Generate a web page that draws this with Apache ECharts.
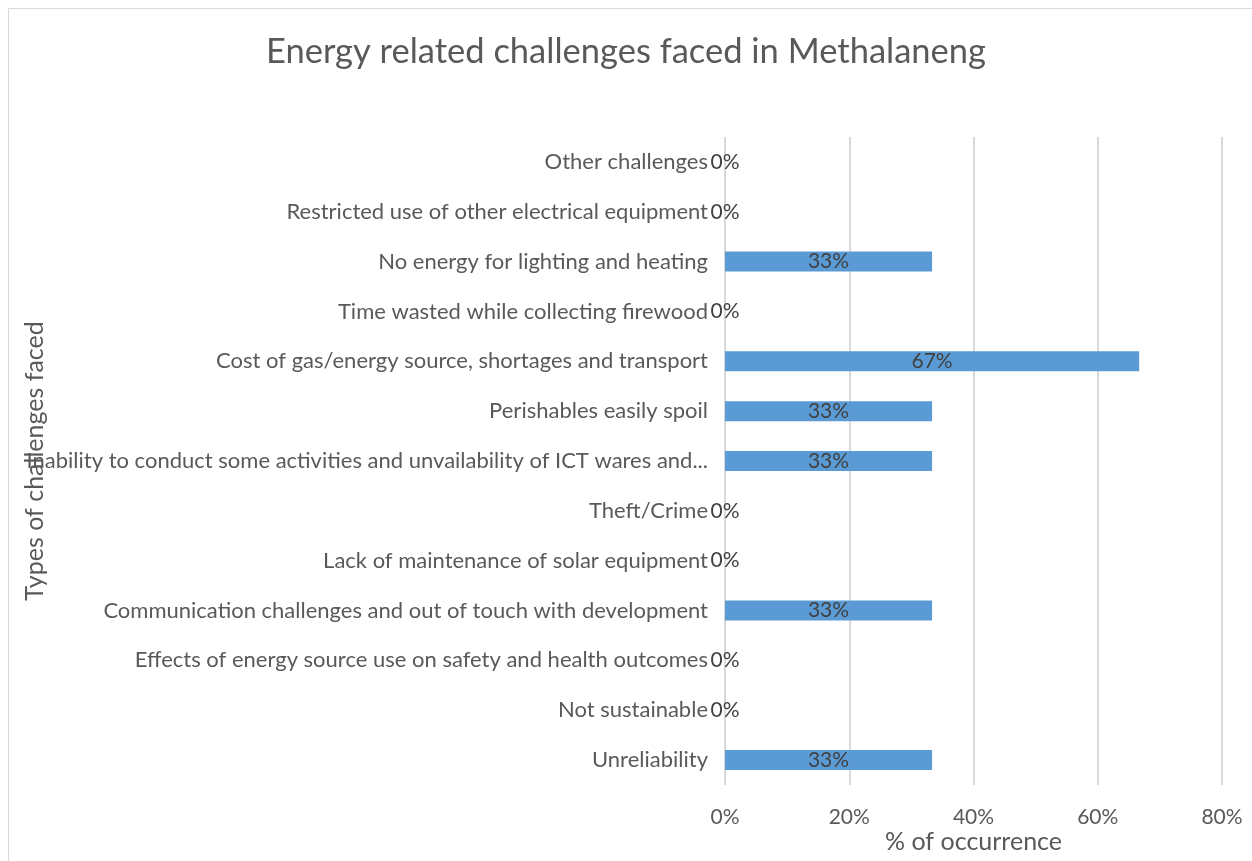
<!DOCTYPE html>
<html>
<head>
<meta charset="utf-8">
<script src="https://cdn.jsdelivr.net/npm/echarts@6/dist/echarts.min.js"></script>
<style>
  html, body { margin: 0; padding: 0; background: #fff; }
  #chart { width: 1252px; height: 861px; }
</style>
</head>
<body>
<div id="chart"></div>
<script>
  // categories listed bottom to top (category axis draws first item at the bottom)
  var challenges = [
    'Unreliability',
    'Not sustainable',
    'Effects of energy source use on safety and health outcomes',
    'Communication challenges and out of touch with development',
    'Lack of maintenance of solar equipment',
    'Theft/Crime',
    'Inability to conduct some activities and unvailability of ICT wares and...',
    'Perishables easily spoil',
    'Cost of gas/energy source, shortages and transport',
    'Time wasted while collecting firewood',
    'No energy for lighting and heating',
    'Restricted use of other electrical equipment',
    'Other challenges'
  ];
  var occurrence = [33.33, 0, 0, 33.33, 0, 0, 33.33, 33.33, 66.67, 0, 33.33, 0, 0];
  var xTicks = [0, 20, 40, 60, 80];

  var textColor = '#595959';
  var fontFam = 'Lato, "Open Sans", sans-serif';

  var chart = echarts.init(document.getElementById('chart'));
  var option = {
    animation: false,
    textStyle: { fontFamily: fontFam },
    title: {
      text: 'Energy related challenges faced in Methalaneng',
      left: 'center',
      top: 29,
      textStyle: { fontFamily: fontFam, fontSize: 34.5, fontWeight: 'normal', color: textColor }
    },
    graphic: [{
      type: 'rect',
      shape: { x: 8.5, y: 8.5, width: 1300, height: 900 },
      style: { fill: 'none', stroke: '#d9d9d9', lineWidth: 1 },
      silent: true
    }],
    grid: { left: 725, right: 30, top: 137, bottom: 76, outerBoundsMode: 'none' },
    xAxis: {
      type: 'value',
      min: xTicks[0],
      max: xTicks[xTicks.length - 1],
      interval: 20,
      name: '% of occurrence',
      nameLocation: 'middle',
      nameGap: 44,
      nameMoveOverlap: false,
      nameTextStyle: { fontFamily: fontFam, fontSize: 25, color: textColor },
      axisLine: { show: false },
      axisTick: { show: false },
      axisLabel: {
        formatter: '{value}%',
        fontFamily: fontFam, fontSize: 21, color: textColor, margin: 22
      },
      splitLine: { lineStyle: { color: '#d9d9d9', width: 2 } }
    },
    yAxis: {
      type: 'category',
      data: challenges,
      name: 'Types of challenges faced',
      nameLocation: 'middle',
      nameRotate: 90,
      nameGap: 678,
      nameMoveOverlap: false,
      nameTextStyle: { fontFamily: fontFam, fontSize: 25, color: textColor },
      axisLine: { show: false },
      axisTick: { show: false },
      axisLabel: {
        fontFamily: fontFam, fontSize: 22, color: textColor, margin: 17,
        width: 705, overflow: 'truncate'
      },
      splitLine: { show: false }
    },
    series: [{
      type: 'bar',
      data: occurrence,
      barWidth: 20,
      itemStyle: { color: '#5b9bd5' },
      label: {
        show: true,
        position: 'inside',
        formatter: function (p) { return Math.round(p.value) + '%'; },
        fontFamily: fontFam, fontSize: 21, color: '#404040'
      }
    }]
  };
  chart.setOption(option);
</script>
</body>
</html>
